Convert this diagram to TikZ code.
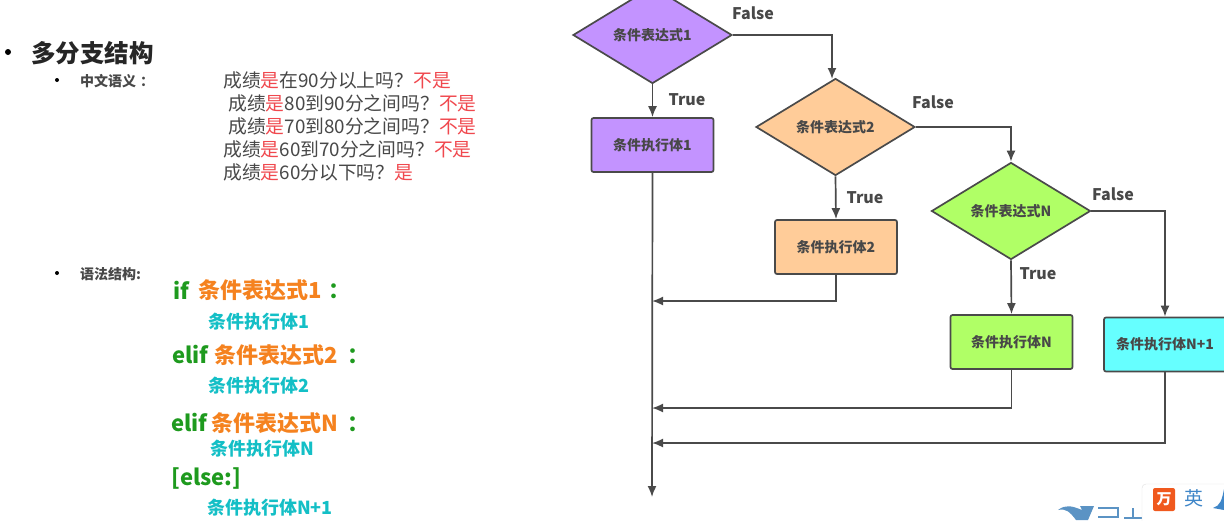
\documentclass[tikz,border=0pt]{standalone}
\usepackage{fontspec}
\setmainfont{Noto Sans CJK SC}
\usetikzlibrary{shapes.geometric,arrows.meta}
\definecolor{linec}{HTML}{4A4A4A}
\definecolor{txtc}{HTML}{484848}
\definecolor{purp}{HTML}{C393FF}
\definecolor{orng}{HTML}{FFCC99}
\definecolor{lime}{HTML}{B0FF66}
\definecolor{cyn}{HTML}{66FFFF}
\definecolor{redc}{HTML}{F0484E}
\definecolor{grn}{HTML}{1E9A1E}
\definecolor{ora}{HTML}{F5821F}
\definecolor{teal2}{HTML}{14BFC6}
\definecolor{wmk}{HTML}{5B93C4}
\definecolor{ime}{HTML}{3F86C8}
\definecolor{imeo}{HTML}{F0591E}
\newcommand{\fs}[1]{\fontsize{#1}{#1}\selectfont}
\newcommand{\dn}[1]{\raisebox{-1.5pt}{#1}}
\tikzset{
  dia/.style={diamond,draw=linec,line width=1.7pt,aspect=1.64,minimum width=159pt,minimum height=97pt,inner sep=0pt,text=txtc,font=\fs{14}\bfseries},
  box/.style={rectangle,rounded corners=2pt,draw=linec,line width=1.7pt,minimum width=122pt,minimum height=54pt,inner sep=0pt,text=txtc,font=\fs{14}\bfseries},
  conn/.style={draw=linec,line width=1.7pt,-{Latex[length=11pt,width=9pt]}},
  lab/.style={text=txtc,font=\fs{16}\bfseries,inner sep=0pt},
  ln/.style={anchor=west,inner sep=0pt,text=txtc,font=\fs{18.8}},
  sub/.style={anchor=west,inner sep=0pt,text=txtc,font=\fs{14}\bfseries},
  dot/.style={circle,fill=black,inner sep=0pt,minimum size=#1},
  kw/.style={anchor=west,inner sep=0pt,font=\fs{22}\bfseries},
  bd/.style={anchor=west,inner sep=0pt,text=teal2,font=\fs{18}\bfseries}
}
\begin{document}
\begin{tikzpicture}[x=1pt,y=-1pt]
\useasboundingbox (0,0) rectangle (1224,520);
\clip (0,0) rectangle (1224,520);
\fill[white] (0,0) rectangle (1224,520);
% left text
\node[dot=6pt] (b0) at (8,52) {};
\node[anchor=west,inner sep=0pt,text=black!85,font=\fs{24.5}\bfseries] (title) at (31,53) {多分支结构};
\node[dot=4pt] (b1) at (57,80) {};
\node[sub] (s1) at (80,81) {中文语义\hspace{4pt}：};
\node[ln] (l1) at (223,80) {成绩\textcolor{redc}{是}在90分以上吗？\textcolor{redc}{不是}};
\node[ln] (l2) at (228,103) {成绩\textcolor{redc}{是}80到90分之间吗？\textcolor{redc}{不是}};
\node[ln] (l3) at (228,126) {成绩\textcolor{redc}{是}70到80分之间吗？\textcolor{redc}{不是}};
\node[ln] (l4) at (223,149) {成绩\textcolor{redc}{是}60到70分之间吗？\textcolor{redc}{不是}};
\node[ln] (l5) at (223,172) {成绩\textcolor{redc}{是}60分以下吗？\textcolor{redc}{是}};
\node[dot=4pt] (b2) at (57,273) {};
\node[sub] (s2) at (80,274) {语法结构:};
% syntax
\node[kw,text=grn] (k1) at (173,290) {if};
\node[kw,text=ora] (e1) at (198,290) {条件表达式1};
\node[kw,text=grn] (c1) at (328,291) {：};
\node[bd] (t1) at (208,322) {条件执行体1};
\node[kw,text=grn] (k2) at (172,355) {elif};
\node[kw,text=ora] (e2) at (214,355) {条件表达式2};
\node[kw,text=grn] (c2) at (347,356) {：};
\node[bd] (t2) at (208,386) {条件执行体2};
\node[kw,text=grn] (k3) at (171,423) {elif};
\node[kw,text=ora] (e3) at (211,423) {条件表达式N};
\node[kw,text=grn] (c3) at (347,424) {：};
\node[bd] (t3) at (210,449) {条件执行体N};
\node[kw,text=grn] (k4) at (171,478) {[else:]};
\node[bd] (t4) at (207,508) {条件执行体N+1};
% flowchart nodes
\node[dia,fill=purp] (d1) at (652.5,35) {\dn{条件表达式1}};
\node[dia,fill=orng] (d2) at (835.5,127) {\dn{条件表达式2}};
\node[dia,fill=lime] (d3) at (1011,211) {\dn{条件表达式N}};
\node[box,fill=purp] (r1) at (652.5,145) {\dn{条件执行体1}};
\node[box,fill=orng] (r2) at (836,247) {\dn{条件执行体2}};
\node[box,fill=lime] (r3) at (1011.5,342) {\dn{条件执行体N}};
\node[box,fill=cyn] (r4) at (1165,344.5) {\dn{条件执行体N+1}};
\coordinate (endp) at (652,497);
\coordinate (d2in) at (832,79);
\coordinate (m2) at (652,301);
\coordinate (m3) at (652,408);
\coordinate (m4) at (652,443);
% connectors
\draw[conn] (d1.south) -- (r1.north);
\draw[conn] (r1.south) -- (endp);
\draw[conn] (d1.east) -| (d2in);
\draw[conn] (d2.south) -- (r2.north);
\draw[conn] (r2.south) |- (m2);
\draw[conn] (d2.east) -| (d3.north);
\draw[conn] (d3.south) -- (r3.north);
\draw[conn] (r3.south) |- (m3);
\draw[conn] (d3.east) -| (r4.north);
\draw[conn] (r4.south) |- (m4);
% labels
\node[lab] (f1) at (753,13) {False};
\node[lab] (v1) at (687,100) {True};
\node[lab] (f2) at (933,102) {False};
\node[lab] (v2) at (865,198) {True};
\node[lab] (f3) at (1113,194) {False};
\node[lab] (v3) at (1038,274) {True};
% watermark and input widget
\fill[wmk] (1058,510) .. controls (1066,504) and (1072,506) .. (1082,510) -- (1080,506) -- (1094,506) -- (1088,520) -- (1076,520) .. controls (1070,512) and (1066,508) .. (1058,510);
\draw[wmk,line width=1.2pt] (1098,508) -- (1118,508) -- (1118,517) -- (1098,517);
\draw[wmk,line width=1.2pt] (1124,518) -- (1142,518) (1133,508) -- (1133,518);
\fill[white,draw=black!12,rounded corners=4pt] (1142,484) rectangle (1240,530);
\fill[imeo,rounded corners=2pt] (1153,488) rectangle (1175,511);
\node[inner sep=0pt,text=white,font=\fs{15}\bfseries] (wan) at (1164,499.5) {万};
\node[inner sep=0pt,text=ime,font=\fs{19}] (ying) at (1194,498.5) {英};
\fill[ime] (1213,508) .. controls (1220,506) and (1222,500) .. (1224,489) -- (1224,510) -- cycle;
\end{tikzpicture}
\end{document}
